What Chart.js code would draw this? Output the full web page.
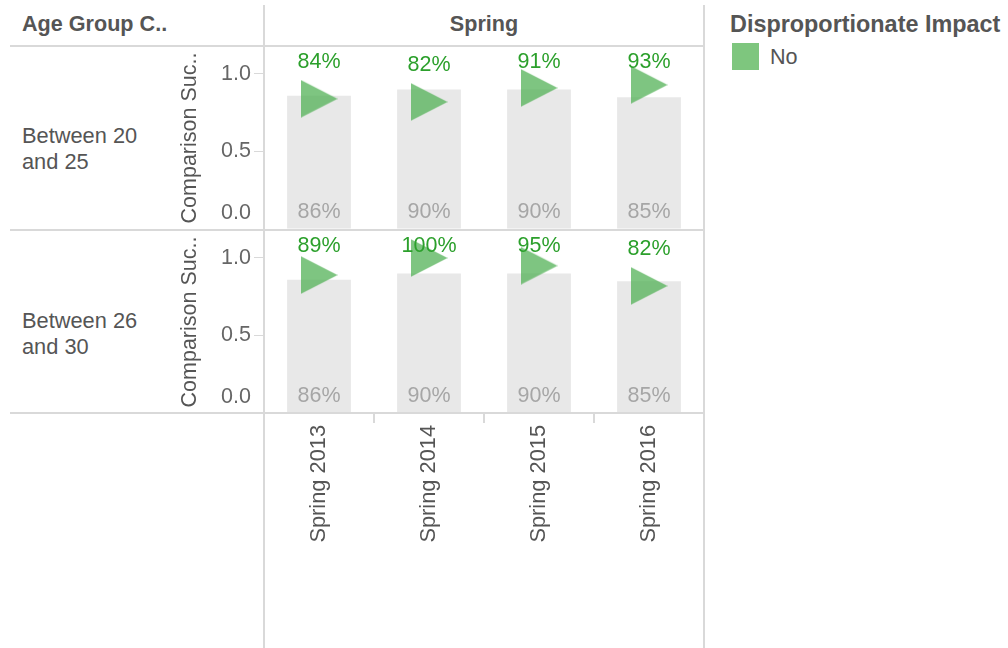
<!DOCTYPE html>
<html>
<head>
<meta charset="utf-8">
<script src="https://cdn.jsdelivr.net/npm/chart.js@4/dist/chart.umd.min.js"></script>
<style>
  html, body { margin:0; padding:0; background:#fff; }
  body { width:1008px; height:648px; position:relative; overflow:hidden;
         font-family:"Liberation Sans", Arial, sans-serif; }
  .abs { position:absolute; }
  .hline { position:absolute; height:2px; background:#d9d9d9; }
  .vline { position:absolute; width:2px; background:#d9d9d9; }
  .hdr { position:absolute; font-weight:bold; font-size:21.6px; color:#555; line-height:24px; white-space:nowrap; }
  .rowlbl { position:absolute; font-size:21.8px; color:#555; line-height:26px; }
  canvas { position:absolute; left:0; }
</style>
</head>
<body>
<script>
// ---- data ----
const categories = ["Spring 2013", "Spring 2014", "Spring 2015", "Spring 2016"];
const rowGroups = ["Between 20 and 25", "Between 26 and 30"];
const comparisonRates = [0.86, 0.90, 0.90, 0.85];        // grey bars (same in both rows)
const successRow1 = [0.84, 0.82, 0.91, 0.93];            // Between 20 and 25
const successRow2 = [0.89, 1.00, 0.95, 0.82];            // Between 26 and 30
const yTicks = [0, 0.5, 1.0];
const legendTitle = "Disproportionate Impact";
const legendItems = ["No"];
</script>

<div class="hdr" style="left:22px; top:12px;">Age Group C..</div>
<div class="hdr" style="left:264px; width:440px; top:12px; text-align:center;">Spring</div>
<div class="hdr" style="left:730px; top:12px; font-size:23.4px;">Disproportionate Impact</div>
<div class="abs" style="left:732px; top:43px; width:27px; height:27px; background:rgb(126,198,126);"></div>
<div class="abs" style="left:770px; top:45px; font-size:21.6px; color:#555; line-height:24px;">No</div>

<div class="rowlbl" style="left:22px; top:123px;">Between 20<br>and 25</div>
<div class="rowlbl" style="left:22px; top:308px;">Between 26<br>and 30</div>

<canvas id="c1" width="1008" height="270" style="top:0;"></canvas>
<canvas id="c2" width="1008" height="458" style="top:190px;"></canvas>

<div class="vline" style="left:263px; top:5px; height:643px;"></div>
<div class="vline" style="left:703px; top:5px; height:643px;"></div>
<div class="hline" style="left:10px; top:45px; width:695px;"></div>
<div class="hline" style="left:10px; top:229px; width:695px;"></div>
<div class="hline" style="left:10px; top:412px; width:695px;"></div>

<script>
const FONT = '"Liberation Sans", Arial, sans-serif';
const GREEN_FILL = 'rgba(76,175,80,0.72)';

function makeTriangle() {
  const c = document.createElement('canvas');
  c.width = 37; c.height = 38;
  const g = c.getContext('2d');
  g.fillStyle = GREEN_FILL;
  g.beginPath();
  g.moveTo(0, 0); g.lineTo(37, 19); g.lineTo(0, 38); g.closePath();
  g.fill();
  return c;
}
const tri = makeTriangle();

const labelPlugin = {
  id: 'valueLabels',
  afterDatasetsDraw(chart) {
    const ctx = chart.ctx;
    const area = chart.chartArea;
    ctx.save();
    ctx.font = '21.5px ' + FONT;
    ctx.textAlign = 'center';
    ctx.textBaseline = 'middle';
    const barMeta = chart.getDatasetMeta(0);
    barMeta.data.forEach((el, i) => {
      const v = chart.data.datasets[0].data[i];
      ctx.fillStyle = '#a6a6a6';
      ctx.fillText(Math.round(v * 100) + '%', el.x, el.base - 16);
    });
    const ptMeta = chart.getDatasetMeta(1);
    ptMeta.data.forEach((el, i) => {
      const v = chart.data.datasets[1].data[i];
      ctx.fillStyle = '#2ca02c';
      const y = Math.max(area.top + 15, el.y - 37);
      ctx.fillText(Math.round(v * 100) + '%', el.x, y);
    });
    ctx.restore();
  }
};

function buildChart(id, markers, showX, padding) {
  return new Chart(document.getElementById(id), {
    type: 'bar',
    data: {
      labels: categories,
      datasets: [
        {
          type: 'bar',
          data: comparisonRates,
          backgroundColor: '#e8e8e8',
          barPercentage: 0.58,
          categoryPercentage: 1.0,
          order: 2
        },
        {
          type: 'line',
          data: markers,
          showLine: false,
          pointStyle: tri,
          pointRadius: 18,
          pointHoverRadius: 18,
          order: 1
        }
      ]
    },
    options: {
      responsive: false,
      animation: false,
      events: [],
      layout: { padding: padding },
      plugins: { legend: { display: false }, tooltip: { enabled: false } },
      scales: {
        x: {
          display: showX,
          offset: true,
          grid: { display: true, drawOnChartArea: false, drawTicks: true, tickLength: 10, color: '#d9d9d9', lineWidth: 2, offset: true },
          border: { display: false },
          ticks: { minRotation: 90, maxRotation: 90, autoSkip: false, padding: 2,
                   color: '#555', font: { size: 21.8, family: FONT } },
          afterFit(scale) {
            if (showX) scale.height = 235;
          }
        },
        y: {
          min: 0,
          max: 1.174,
          grid: { drawOnChartArea: false, drawTicks: true, tickLength: 10, color: '#d9d9d9', lineWidth: 1 },
          border: { display: false },
          afterBuildTicks(scale) { scale.ticks = yTicks.map(v => ({ value: v })); },
          ticks: {
            padding: 3,
            color: '#666',
            font: { size: 21.5, family: FONT, lineHeight: 1.5 },
            callback(v) { return v === 0 ? ['0.0', ''] : v.toFixed(1); }
          },
          title: { display: true, text: 'Comparison Suc..', color: '#555',
                   font: { size: 21.5, family: FONT }, padding: { top: 3, bottom: 3 } },
          afterFit(scale) { scale.width = 90; }
        }
      }
    },
    plugins: [labelPlugin]
  });
}

// chart areas: row 1 -> page y 47..229, row 2 -> page y 231..413; plot x 264..704
buildChart('c1', successRow1, false, { top: 47, left: 174, right: 304, bottom: 41 });
buildChart('c2', successRow2, true, { top: 41, left: 174, right: 304, bottom: 0 });
</script>
</body>
</html>
